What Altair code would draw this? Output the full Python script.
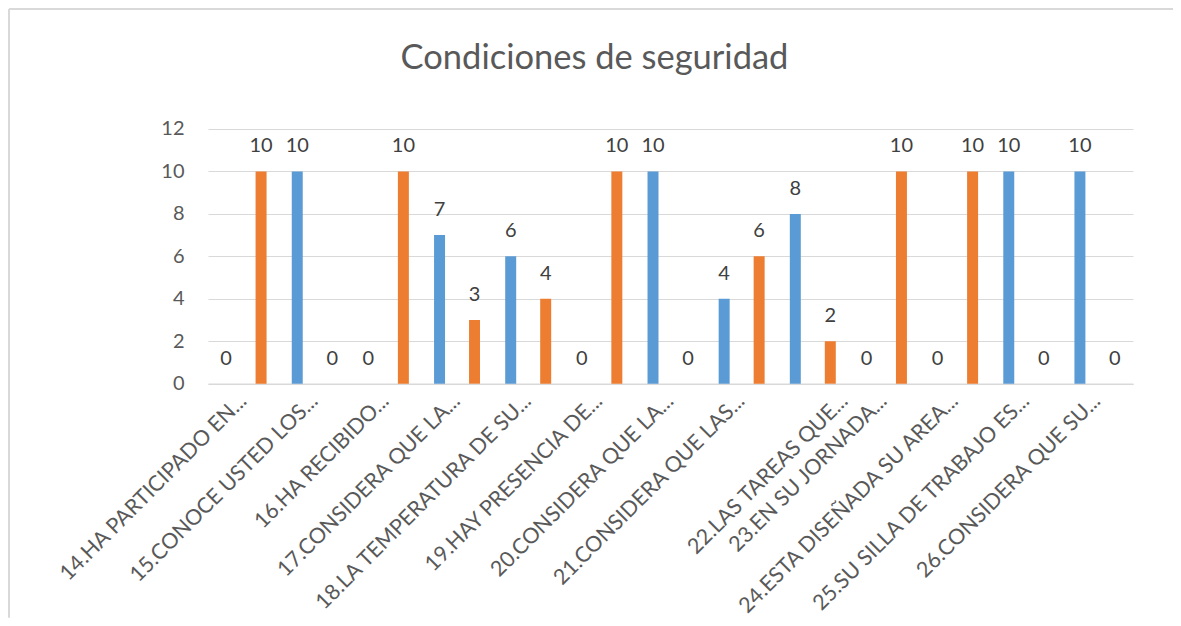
import altair as alt
import pandas as pd

categories = [
    "14.HA PARTICIPADO EN...",
    "15.CONOCE USTED LOS...",
    "16.HA RECIBIDO...",
    "17.CONSIDERA QUE LA...",
    "18.LA TEMPERATURA DE SU...",
    "19.HAY PRESENCIA DE...",
    "20.CONSIDERA QUE LA... ",
    "21.CONSIDERA QUE LAS...",
    "22.LAS TAREAS QUE...",
    "23.EN SU JORNADA...",
    "24.ESTA DISEÑADA SU AREA...",
    "25.SU SILLA DE TRABAJO ES...",
    "26.CONSIDERA QUE SU...",
]
series_names = ["SI", "NO"]
series_si = [0, 10, 0, 7, 6, 0, 10, 4, 8, 0, 0, 10, 10]
series_no = [10, 0, 10, 3, 4, 10, 0, 6, 2, 10, 10, 0, 0]
colors = ["#5B9BD5", "#ED7D31"]
y_ticks = [0, 2, 4, 6, 8, 10, 12]

rows = []
for c, a, b in zip(categories, series_si, series_no):
    rows.append({"categoria": c, "serie": series_names[0], "valor": a})
    rows.append({"categoria": c, "serie": series_names[1], "valor": b})
df = pd.DataFrame(rows)

FONT = "Lato"
W, H = 925, 254.7

x_enc = alt.X(
    "categoria:N",
    sort=categories,
    scale=alt.Scale(paddingInner=0, paddingOuter=0),
    axis=alt.Axis(
        title=None,
        labelAngle=-45,
        labelAlign="right",
        labelBaseline="middle",
        labelFont=FONT,
        labelFontSize=21.5,
        labelColor="#595959",
        labelPadding=14,
        labelLimit=0,
        labelOffset={"condition": {"test": "datum.value == '22.LAS TAREAS QUE...'", "value": 32}, "value": 0},
        ticks=False,
        domainColor="#D9D9D9",
        domainWidth=1.5,
        labelOverlap=False,
    ),
)
xoff_enc = alt.XOffset(
    "serie:N",
    sort=series_names,
    scale=alt.Scale(paddingInner=0.686, paddingOuter=0.36),
)
y_enc = alt.Y(
    "valor:Q",
    scale=alt.Scale(domain=[0, 12]),
    axis=alt.Axis(
        title=None,
        values=y_ticks,
        domain=False,
        ticks=False,
        gridColor="#D9D9D9",
        gridWidth=1.2,
        labelFont=FONT,
        labelFontSize=20,
        labelColor="#595959",
        labelPadding=24,
    ),
)

base = alt.Chart(df)
bars = base.mark_bar().encode(
    x=x_enc,
    xOffset=xoff_enc,
    y=y_enc,
    color=alt.Color("serie:N", scale=alt.Scale(domain=series_names, range=colors), legend=None),
)
labels = base.mark_text(font=FONT, fontSize=20, color="#404040", baseline="middle", dy=-25).encode(
    x=x_enc,
    xOffset=xoff_enc,
    y=y_enc,
    text="valor:Q",
)

frame_df = pd.DataFrame({"k": [0]})
top_line = alt.Chart(frame_df).mark_rule(color="#D9D9D9", strokeWidth=2).encode(
    x=alt.value(-199), x2=alt.value(W + 40), y=alt.value(-120)
)
left_line = alt.Chart(frame_df).mark_rule(color="#D9D9D9", strokeWidth=2).encode(
    x=alt.value(-199), y=alt.value(-120), y2=alt.value(H + 234)
)

chart = alt.layer(bars, labels, top_line, left_line).properties(
    width=W,
    height=H,
    autosize=alt.AutoSizeParams(type="none"),
    padding={"left": 200, "top": 121, "right": 40, "bottom": 234},
    background="white",
    title=alt.TitleParams(
        "Condiciones de seguridad",
        font=FONT,
        fontSize=34.5,
        fontWeight="normal",
        color="#595959",
        anchor="middle",
        frame="group",
        dx=-76,
        dy=96,
        baseline="alphabetic",
        offset=0,
    ),
).configure_view(stroke=None)

chart.save("out.html", embed_options={"renderer": "svg", "actions": False})
